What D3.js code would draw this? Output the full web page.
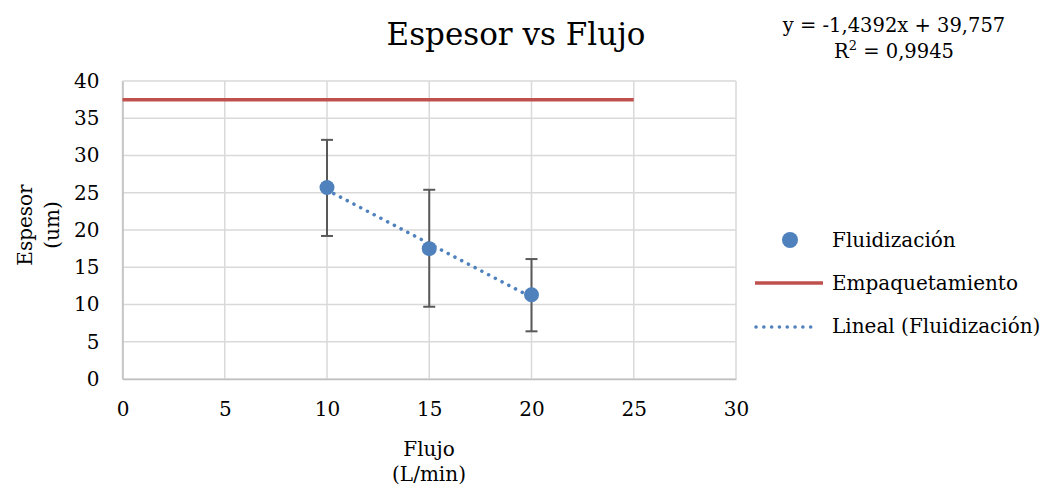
<!DOCTYPE html>
<html>
<head>
<meta charset="utf-8">
<script src="https://cdn.jsdelivr.net/npm/d3@7"></script>
<style>
  body { margin: 0; background: #fff; }
  text { font-family: "DejaVu Serif", serif; fill: #000; }
</style>
</head>
<body>
<svg width="1045" height="494"></svg>
<script>
// data
const flujo = [10, 15, 20];
const espesor = [25.7, 17.5, 11.3];
const errTop = [32.1, 25.4, 16.1];
const errBottom = [19.2, 9.7, 6.4];
const empaqX = [0, 25];
const empaqY = [37.5, 37.5];
const trendSlope = -1.4392;
const trendIntercept = 39.757;
const xTicks = [0, 5, 10, 15, 20, 25, 30];
const yTicks = [0, 5, 10, 15, 20, 25, 30, 35, 40];

const svg = d3.select("svg");
const margin = {left: 122.5, top: 81, right: 1045 - 736, bottom: 494 - 379};
const width = 1045 - margin.left - margin.right;
const height = 494 - margin.top - margin.bottom;

const x = d3.scaleLinear().domain([0, 30]).range([0, width]);
const y = d3.scaleLinear().domain([0, 40]).range([height, 0]);

const g = svg.append("g").attr("transform", `translate(${margin.left},${margin.top})`);

// gridlines
g.selectAll(".vgrid").data(xTicks).enter().append("line")
  .attr("x1", d => x(d)).attr("x2", d => x(d))
  .attr("y1", 0).attr("y2", height)
  .attr("stroke", "#d9d9d9").attr("stroke-width", 1.5);
g.selectAll(".hgrid").data(yTicks).enter().append("line")
  .attr("x1", 0).attr("x2", width)
  .attr("y1", d => y(d)).attr("y2", d => y(d))
  .attr("stroke", "#d9d9d9").attr("stroke-width", 1.5);

// axes (labels only, lines drawn as grid)
const xAxis = g.append("g").attr("transform", `translate(0,${height})`)
  .call(d3.axisBottom(x).tickValues(xTicks).tickSize(0).tickPadding(23));
const yAxis = g.append("g")
  .call(d3.axisLeft(y).tickValues(yTicks).tickSize(0).tickPadding(23));
[xAxis, yAxis].forEach(a => {
  a.select(".domain").attr("stroke", "#bfbfbf").attr("stroke-width", 1.5);
  a.selectAll("text").style("font-family", "DejaVu Serif").style("font-size", "20px").attr("fill", "#000");
});

// empaquetamiento line
g.append("line")
  .attr("x1", x(empaqX[0])).attr("x2", x(empaqX[1]))
  .attr("y1", y(empaqY[0])).attr("y2", y(empaqY[1]))
  .attr("stroke", "#c0504d").attr("stroke-width", 3.5);

// trend line
const tx0 = d3.min(flujo), tx1 = d3.max(flujo);
g.append("line")
  .attr("x1", x(tx0)).attr("x2", x(tx1))
  .attr("y1", y(trendSlope * tx0 + trendIntercept))
  .attr("y2", y(trendSlope * tx1 + trendIntercept))
  .attr("stroke", "#4f81bd").attr("stroke-width", 3.5)
  .attr("stroke-dasharray", "0.1 7.5").attr("stroke-linecap", "round");

// error bars
const pts = flujo.map((f, i) => ({f, v: espesor[i], hi: errTop[i], lo: errBottom[i]}));
const eb = g.selectAll(".err").data(pts).enter().append("g").attr("stroke", "#595959").attr("stroke-width", 2);
eb.append("line").attr("x1", d => x(d.f)).attr("x2", d => x(d.f)).attr("y1", d => y(d.hi)).attr("y2", d => y(d.lo));
eb.append("line").attr("x1", d => x(d.f) - 6).attr("x2", d => x(d.f) + 6).attr("y1", d => y(d.hi)).attr("y2", d => y(d.hi));
eb.append("line").attr("x1", d => x(d.f) - 6).attr("x2", d => x(d.f) + 6).attr("y1", d => y(d.lo)).attr("y2", d => y(d.lo));

// points
g.selectAll(".pt").data(pts).enter().append("circle")
  .attr("cx", d => x(d.f)).attr("cy", d => y(d.v)).attr("r", 7.5)
  .attr("fill", "#4f81bd");

// title
svg.append("text").attr("x", 516).attr("y", 45).attr("text-anchor", "middle")
  .style("font-size", "31px").text("Espesor vs Flujo");

// equation
svg.append("text").attr("x", 894).attr("y", 32).attr("text-anchor", "middle")
  .style("font-size", "19.5px").text("y = -1,4392x + 39,757");
const r2 = svg.append("text").attr("x", 894).attr("y", 58).attr("text-anchor", "middle")
  .style("font-size", "19.5px");
r2.append("tspan").text("R");
r2.append("tspan").attr("dy", -8).style("font-size", "13px").text("2");
r2.append("tspan").attr("dy", 8).text(" = 0,9945");

// axis titles
const yt = svg.append("text").attr("transform", "translate(0,225) rotate(-90)")
  .attr("text-anchor", "middle").style("font-size", "20px");
yt.append("tspan").attr("x", 0).attr("y", 32).text("Espesor");
yt.append("tspan").attr("x", 0).attr("y", 59).text("(um)");
const xt = svg.append("text").attr("text-anchor", "middle").style("font-size", "20px");
xt.append("tspan").attr("x", 429).attr("y", 456).text("Flujo");
xt.append("tspan").attr("x", 429).attr("y", 481).text("(L/min)");

// legend
const leg = svg.append("g");
leg.append("circle").attr("cx", 790).attr("cy", 240).attr("r", 8).attr("fill", "#4f81bd");
leg.append("line").attr("x1", 755).attr("x2", 823).attr("y1", 283).attr("y2", 283)
  .attr("stroke", "#c0504d").attr("stroke-width", 3.5);
leg.append("line").attr("x1", 756).attr("x2", 818).attr("y1", 327).attr("y2", 327)
  .attr("stroke", "#4f81bd").attr("stroke-width", 3.5)
  .attr("stroke-dasharray", "0.1 7.7").attr("stroke-linecap", "round");
const labels = ["Fluidización", "Empaquetamiento", "Lineal (Fluidización)"];
leg.selectAll(".lt").data(labels).enter().append("text")
  .attr("x", 832).attr("y", (d, i) => 247 + i * 43)
  .style("font-size", "20px").text(d => d);
</script>
</body>
</html>
